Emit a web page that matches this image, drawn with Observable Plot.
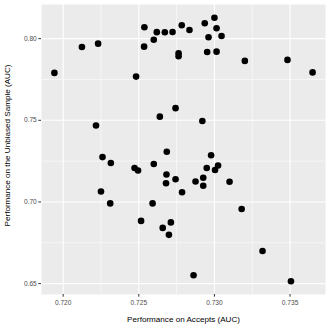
<!DOCTYPE html>
<html>
<head>
<meta charset="utf-8">
<script src="https://cdn.jsdelivr.net/npm/d3@7"></script>
<script src="https://cdn.jsdelivr.net/npm/@observablehq/plot@0.6"></script>
<style>
  html, body { margin: 0; padding: 0; background: #fff; }
  #chart svg { display: block; }
</style>
</head>
<body>
<div id="chart"></div>
<script>
// Performance on Accepts (AUC)
const acceptsAUC = [
  0.71942, 0.72124, 0.72231, 0.72482, 0.72535, 0.72537, 0.72599, 0.72619, 0.72672, 0.72723,
  0.72784, 0.72835, 0.72763, 0.72763, 0.72936, 0.73000, 0.73014, 0.72961, 0.73047, 0.72952,
  0.73014, 0.73201, 0.73483, 0.73649,
  0.72217, 0.72639, 0.72743, 0.72920, 0.72260, 0.72315, 0.72472, 0.72495, 0.72599, 0.72685,
  0.72683, 0.72680, 0.72743, 0.72786, 0.72978, 0.72949, 0.73024, 0.73004, 0.72926, 0.72875,
  0.72926, 0.73100, 0.72250, 0.72311, 0.72591, 0.73180, 0.72515, 0.72712, 0.72658, 0.72699,
  0.73318, 0.72862, 0.73506
];
// Performance on the Unbiased Sample (AUC)
const unbiasedAUC = [
  0.77903, 0.79492, 0.79694, 0.77676, 0.79511, 0.80697, 0.79933, 0.80397, 0.80391, 0.80410,
  0.80819, 0.80532, 0.79107, 0.78924, 0.80942, 0.81284, 0.80636, 0.80086, 0.80165, 0.79187,
  0.79205, 0.78636, 0.78698, 0.77933,
  0.74680, 0.75224, 0.75744, 0.74955, 0.72748, 0.72381, 0.72081, 0.71922, 0.72320, 0.73072,
  0.71684, 0.71145, 0.71390, 0.70595, 0.72858, 0.72075, 0.72234, 0.71959, 0.71482, 0.71256,
  0.70993, 0.71237, 0.70644, 0.69910, 0.69910, 0.69568, 0.68840, 0.68748, 0.68412, 0.67984,
  0.66999, 0.65507, 0.65140
];
const xTicks = [0.720, 0.725, 0.730, 0.735];
const yTicks = [0.65, 0.70, 0.75, 0.80];
const xMinor = [0.7175, 0.7225, 0.7275, 0.7325];
const yMinor = [0.675, 0.725, 0.775];
const xTitle = "Performance on Accepts (AUC)";
const yTitle = "Performance on the Unbiased Sample (AUC)";

const data = acceptsAUC.map((x, i) => ({x, y: unbiasedAUC[i]}));

function expand([lo, hi], f = 0.05) {
  const d = (hi - lo) * f;
  return [lo - d, hi + d];
}
const xDomain = expand(d3.extent(acceptsAUC));
const yDomain = expand(d3.extent(unbiasedAUC));
const font = "Liberation Sans, Arial, Helvetica, sans-serif";

const chart = Plot.plot({
  width: 329,
  height: 329,
  marginLeft: 41,
  marginRight: 4,
  marginTop: 4,
  marginBottom: 35,
  style: {fontFamily: font, background: "#ffffff", overflow: "visible"},
  x: {domain: xDomain, label: null},
  y: {domain: yDomain, label: null},
  marks: [
    Plot.frame({fill: "#EBEBEB", stroke: null}),
    Plot.gridX(xMinor.filter(v => v > xDomain[0] && v < xDomain[1]), {stroke: "#ffffff", strokeOpacity: 1, strokeWidth: 0.55}),
    Plot.gridY(yMinor.filter(v => v > yDomain[0] && v < yDomain[1]), {stroke: "#ffffff", strokeOpacity: 1, strokeWidth: 0.55}),
    Plot.gridX(xTicks, {stroke: "#ffffff", strokeOpacity: 1, strokeWidth: 1.1}),
    Plot.gridY(yTicks, {stroke: "#ffffff", strokeOpacity: 1, strokeWidth: 1.1}),
    Plot.axisX({ticks: xTicks, tickFormat: d3.format(".3f"), tickSize: 2.7, tickPadding: 3, fontSize: 6.6, stroke: "#333333", color: "#4D4D4D", label: null}),
    Plot.axisY({ticks: yTicks, tickFormat: d3.format(".2f"), tickSize: 2.7, tickPadding: 2, fontSize: 6.6, stroke: "#333333", color: "#4D4D4D", label: null}),
    Plot.dot(data, {x: "x", y: "y", r: 3.3, fill: "#000000", stroke: null}),
    Plot.text([xTitle], {frameAnchor: "bottom", dy: 25, fontSize: 8.1, fill: "#000000", lineAnchor: "middle", textAnchor: "middle"}),
    Plot.text([yTitle], {frameAnchor: "left", dx: -34, dy: -4, rotate: -90, fontSize: 8.1, fill: "#000000", lineAnchor: "middle", textAnchor: "middle"})
  ]
});
document.getElementById("chart").appendChild(chart);
</script>
</body>
</html>
